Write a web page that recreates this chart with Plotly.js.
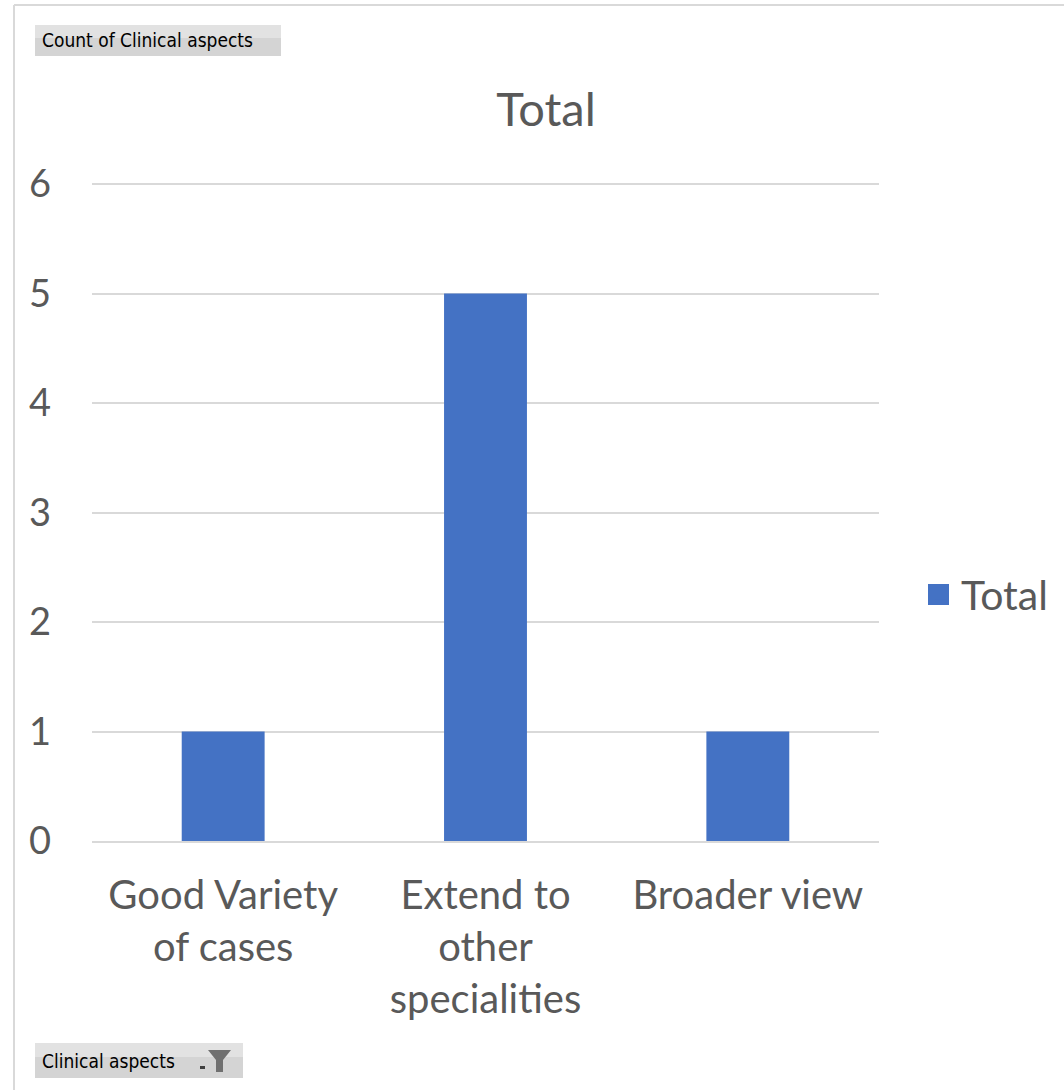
<!DOCTYPE html>
<html>
<head>
<meta charset="utf-8">
<script src="https://cdn.plot.ly/plotly-3.0.1.min.js"></script>
<style>
  html, body { margin: 0; padding: 0; background: #ffffff; }
  #chart { width: 1064px; height: 1090px; }
</style>
</head>
<body>
<div id="chart"></div>
<script>
const categories = ["Good Variety<br>of cases", "Extend to<br>other<br>specialities", "Broader view"];
const totals = [1, 5, 1];
const seriesName = "Total";
const yTicks = [0, 1, 2, 3, 4, 5, 6];

// plot area in pixels (range top slightly above 6 so the 6 gridline shows)
const YMAX = 6.01;
const L = 92, R = 879, B = 841;
const PXPERUNIT = (841 - 184) / 6;
const T = Math.round(B - YMAX * PXPERUNIT);
const W = 1064, H = 1090;
const px = x => (x - L) / (R - L);
const py = y => (B - y) / (B - T);

const FONT = "Lato, 'Noto Sans', sans-serif";
const GREY = "#595959";
const BTNFONT = "'Liberation Sans Narrow', 'DejaVu Sans Condensed', sans-serif";

const trace = {
  type: "bar",
  x: categories,
  y: totals,
  name: seriesName,
  marker: { color: "#4472c4" },
  hoverinfo: "x+y"
};

const shapes = [
  // outer chart frame
  { type: "line", xref: "paper", yref: "paper", x0: px(14), x1: px(1064), y0: py(5), y1: py(5), line: { color: "#d9d9d9", width: 2 } },
  { type: "line", xref: "paper", yref: "paper", x0: px(14), x1: px(14), y0: py(5), y1: py(1090), line: { color: "#d9d9d9", width: 2 } },
  // top field button
  { type: "rect", xref: "paper", yref: "paper", x0: px(35), x1: px(281), y0: py(25), y1: py(56), line: { width: 0 }, fillcolor: "#d4d4d4", layer: "below" },
  { type: "rect", xref: "paper", yref: "paper", x0: px(35), x1: px(281), y0: py(25), y1: py(38), line: { width: 0 }, fillcolor: "#e2e2e2", layer: "below" },
  // bottom field button
  { type: "rect", xref: "paper", yref: "paper", x0: px(35), x1: px(243), y0: py(1043), y1: py(1078), line: { width: 0 }, fillcolor: "#d4d4d4", layer: "below" },
  { type: "rect", xref: "paper", yref: "paper", x0: px(35), x1: px(243), y0: py(1043), y1: py(1057), line: { width: 0 }, fillcolor: "#e2e2e2", layer: "below" },
  // funnel icon
  { type: "path", xref: "paper", yref: "paper",
    path: `M ${px(208)} ${py(1050)} L ${px(231)} ${py(1050)} L ${px(223)} ${py(1060)} L ${px(223)} ${py(1072)} L ${px(216)} ${py(1072)} L ${px(216)} ${py(1060)} Z`,
    fillcolor: "#707070", line: { width: 0 } },
  // small dropdown marker
  { type: "rect", xref: "paper", yref: "paper", x0: px(200), x1: px(205), y0: py(1066), y1: py(1069), fillcolor: "#404040", line: { width: 0 } },
  // larger legend swatch (Excel style)
  { type: "rect", xref: "paper", yref: "paper", x0: px(928), x1: px(949), y0: py(584), y1: py(605), fillcolor: "#4472c4", line: { width: 0 } }
];

const annotations = [
  { xref: "paper", yref: "paper", x: px(40), y: py(40), xanchor: "left", yanchor: "middle", showarrow: false,
    text: "Count of Clinical aspects", font: { family: BTNFONT, size: 19, color: "#000000" } },
  { xref: "paper", yref: "paper", x: px(40), y: py(1061), xanchor: "left", yanchor: "middle", showarrow: false,
    text: "Clinical aspects", font: { family: BTNFONT, size: 19, color: "#000000" } }
];

const layout = {
  width: W, height: H,
  margin: { l: L, r: W - R, t: T, b: H - B, pad: 0, autoexpand: false },
  paper_bgcolor: "#ffffff",
  plot_bgcolor: "#ffffff",
  font: { family: FONT, color: GREY },
  title: { text: "Total", font: { family: FONT, size: 47, color: GREY }, x: px(546), xanchor: "center", xref: "paper", y: 1 - 110 / H, yanchor: "middle" },
  bargap: 0.684,
  showlegend: true,
  legend: { x: px(921), y: py(594), xanchor: "left", yanchor: "middle", font: { family: FONT, size: 41, color: GREY }, itemwidth: 30, bgcolor: "rgba(0,0,0,0)", borderwidth: 0 },
  xaxis: {
    type: "category",
    showgrid: false,
    showline: true, linecolor: "#d9d9d9", linewidth: 2,
    ticks: "", tickfont: { family: FONT, size: 40, color: GREY },
    ticklabelstandoff: 18,
    zeroline: false
  },
  yaxis: {
    range: [0, YMAX],
    tickvals: yTicks,
    ticktext: yTicks.map(String),
    showgrid: true, gridcolor: "#d9d9d9", gridwidth: 2,
    zeroline: false, showline: false,
    ticks: "", tickfont: { family: FONT, size: 38, color: GREY },
    ticklabelstandoff: 40
  },
  shapes: shapes,
  annotations: annotations
};

Plotly.newPlot("chart", [trace], layout, { displayModeBar: false, staticPlot: true });
</script>
</body>
</html>
